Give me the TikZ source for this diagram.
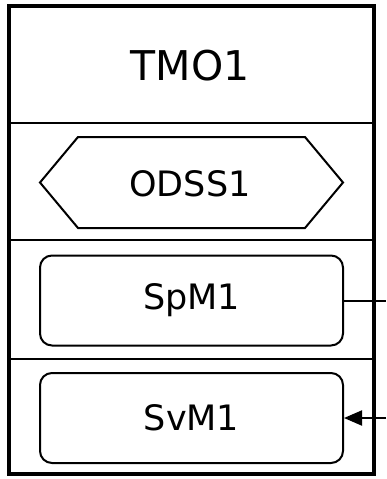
\documentclass[tikz,border=0pt]{standalone}
\usepackage{fontspec}
\setmainfont{DejaVu Sans}
\usetikzlibrary{arrows.meta,shapes.misc}
\begin{document}
\begin{tikzpicture}[x=1pt,y=-1pt,
  outer/.style={draw=black,line width=4pt},
  sep/.style={draw=black,line width=2.2pt},
  shapeline/.style={draw=black,line width=2pt},
  rbox/.style={shapeline,rounded corners=12pt,minimum width=303pt,minimum height=90pt,inner sep=0pt,font=\fontsize{35}{35}\selectfont},
  conn/.style={draw=black,line width=2pt},
  lbl/.style={font=\fontsize{35}{35}\selectfont,inner sep=0pt}]
\useasboundingbox (0,0) rectangle (386,479);
\draw[outer] (9,6) rectangle (374,474);
\draw[sep] (9,123) -- (374,123);
\draw[sep] (9,240) -- (374,240);
\draw[sep] (9,359) -- (374,359);
\node[font=\fontsize{41}{41}\selectfont,inner sep=0pt] (tmo) at (190,66) {TMO1};
\draw[shapeline] (40,182.5) -- (78,137) -- (305,137) -- (343,182.5) -- (305,228) -- (78,228) -- cycle;
\node[lbl] (odss) at (190,184) {ODSS1};
\node[rbox] (spm) at (191.5,300.5) {SpM1};
\node[rbox] (svm) at (191.5,418) {SvM1};
\coordinate (spmout) at (386,300.5);
\coordinate (svmin) at (386,418);
\draw[conn] (spm.east) -- (spmout);
\draw[conn,-{Triangle[length=18pt,width=15pt]}] (svmin) -- (svm.east);
\end{tikzpicture}
\end{document}
